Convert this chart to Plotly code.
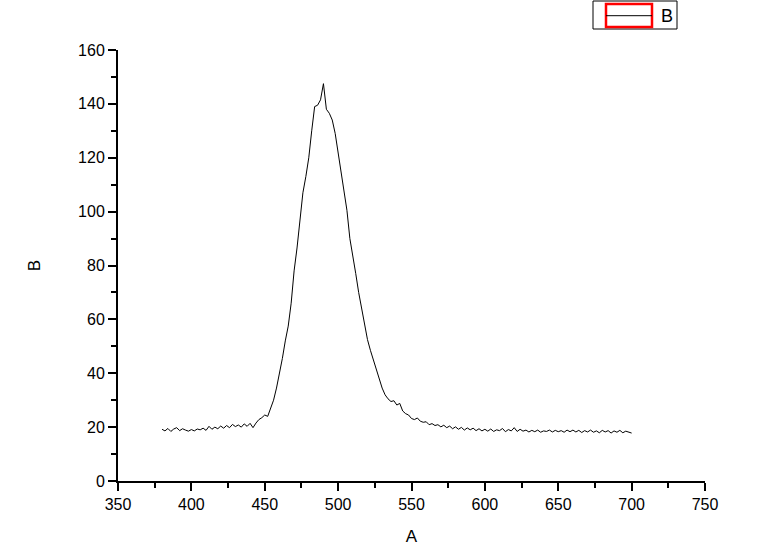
import plotly.graph_objects as go

# Series B sampled every 2 units of A, starting at A = 380
B = [
    19.2, 18.6, 19.5, 18.4, 19.3, 19.8, 18.7, 19.4, 18.9, 18.5,
    19.1, 18.6, 19.3, 19.0, 19.6, 18.8, 20.3, 19.2, 20.0, 19.4,
    20.4, 19.6, 20.6, 19.8, 21.0, 20.2, 20.8, 20.0, 21.2, 20.3,
    21.4,
    19.8, 21.5, 22.8, 23.5, 24.5, 24.0, 27.0, 30.0, 34.5, 39.5,
    45.5, 52.0, 57.5, 66.0, 78.0, 86.5, 96.0, 107.0, 113.0, 120.0,
    130.0, 139.0, 139.5, 141.5, 147.5, 138.0, 136.5, 134.0, 129.0, 122.0,
    114.0, 107.0, 100.5, 90.0, 84.0, 77.0, 70.0, 64.5, 58.0, 52.5,
    48.5, 45.0, 41.0, 37.5, 34.5, 32.0, 30.5, 29.5, 29.8, 28.2,
    28.8, 26.0, 25.0, 24.5, 23.2, 22.8, 23.4, 22.2, 21.8, 22.0,
    20.9, 21.3, 20.6, 20.9, 20.1, 20.7, 19.8, 20.4, 19.4, 20.1,
    19.2, 19.9, 18.9, 19.7, 19.0, 19.6, 18.7, 19.4, 18.6, 19.2,
    18.5, 19.3, 18.4, 19.0, 18.7, 19.5, 18.3, 19.1, 18.6, 19.8,
    18.4, 19.2, 18.5, 18.9, 18.2, 18.8, 18.3, 18.9, 18.1, 18.6,
    18.4, 18.9, 18.2, 18.8, 18.3, 18.7, 18.1, 18.9, 18.3, 18.9,
    18.2, 18.8, 18.0, 18.7, 18.2, 18.9, 18.1, 18.6, 17.9, 18.8,
    18.2, 18.7, 17.8, 18.6, 18.1, 18.8, 17.9, 18.5, 18.0, 17.8,
]
A = list(range(380, 380 + 2 * len(B), 2))

x_ticks = [350, 400, 450, 500, 550, 600, 650, 700, 750]
y_ticks = [0, 20, 40, 60, 80, 100, 120, 140, 160]

FONT = "Liberation Sans, Arial, sans-serif"

fig = go.Figure()
fig.add_trace(go.Scatter(x=A, y=B, mode="lines", name="B",
                         line=dict(color="black", width=1), showlegend=False))

axis_common = dict(
    showgrid=False, zeroline=False, showline=True, linecolor="black", linewidth=2,
    ticks="outside", ticklen=8, tickwidth=1.5, tickcolor="black",
    tickfont=dict(family=FONT, size=16, color="black"),
    mirror=False, automargin=False,
)

fig.update_xaxes(range=[350, 750], tickvals=x_ticks, ticktext=[str(v) for v in x_ticks],
                 minor=dict(ticks="outside", ticklen=5, tickwidth=1.5, tickcolor="black", dtick=25, tick0=350),
                 title=dict(text="A", font=dict(family=FONT, size=17, color="black"), standoff=19),
                 **axis_common)
fig.update_yaxes(range=[0, 160], tickvals=y_ticks, ticktext=[str(v) for v in y_ticks],
                 minor=dict(ticks="outside", ticklen=5, tickwidth=1.5, tickcolor="black", dtick=10, tick0=0),
                 title=dict(text="B", font=dict(family=FONT, size=17, color="black"), standoff=33),
                 **axis_common)

# Legend drawn Origin-style: outer frame, red box around the line sample, label
def px_x(p):
    return (p - 118) / 587.0

def px_y(p):
    return (481 - p) / 431.0

shapes = [
    dict(type="rect", xref="paper", yref="paper", x0=px_x(593), x1=px_x(677), y0=px_y(29), y1=px_y(1),
         line=dict(color="black", width=1), fillcolor="white", layer="above"),
    dict(type="rect", xref="paper", yref="paper", x0=px_x(606), x1=px_x(652), y0=px_y(27), y1=px_y(4),
         line=dict(color="red", width=2.5), layer="above"),
    dict(type="line", xref="paper", yref="paper", x0=px_x(606), x1=px_x(652), y0=px_y(15.7), y1=px_y(15.7),
         line=dict(color="black", width=1), layer="above"),
]
fig.update_layout(
    shapes=shapes,
    annotations=[dict(text="B", xref="paper", yref="paper", x=px_x(659), y=px_y(16.5),
                      xanchor="left", yanchor="middle", showarrow=False,
                      font=dict(family=FONT, size=18, color="black"))],
    width=766, height=546,
    margin=dict(l=118, r=61, t=50, b=65),
    paper_bgcolor="white", plot_bgcolor="white",
    showlegend=False,
)

fig.write_html("out.html", config={"displayModeBar": False},
               post_script="document.body.style.margin='0';")
